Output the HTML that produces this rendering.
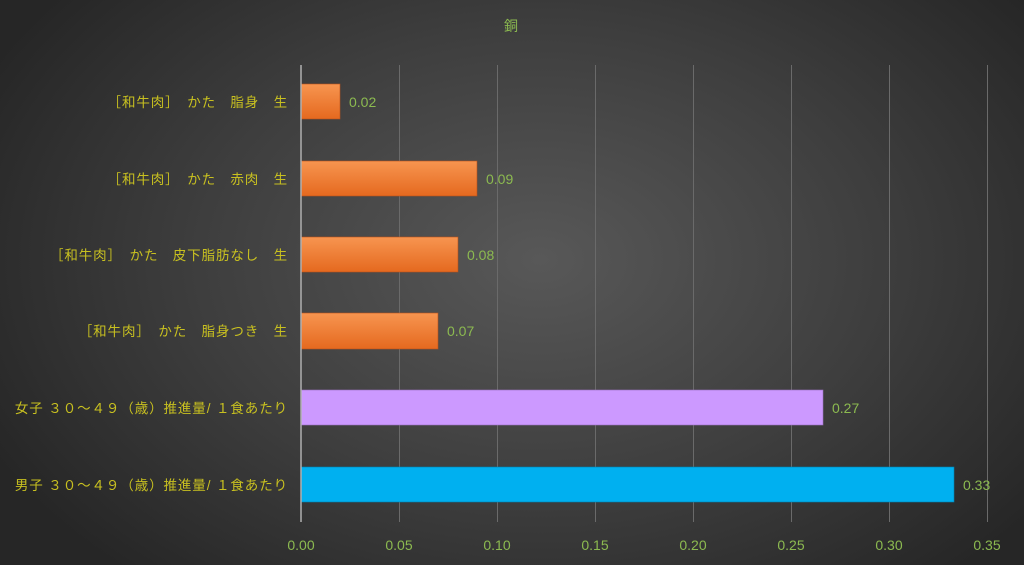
<!DOCTYPE html>
<html><head><meta charset="utf-8"><style>
html,body{margin:0;padding:0;}
body{width:1024px;height:565px;overflow:hidden;background:radial-gradient(ellipse 620px 420px at 540px 260px,#585858 0%,#3e3e3e 55%,#262626 100%);}
svg{display:block;font-family:"Liberation Sans","Noto Sans CJK JP",sans-serif;}
</style></head><body>
<svg width="1024" height="565" viewBox="0 0 1024 565">
<defs>
<linearGradient id="og" x1="0" y1="0" x2="0" y2="1"><stop offset="0" stop-color="#f79550"/><stop offset="1" stop-color="#e5691f"/></linearGradient>
</defs>
<text x="511" y="31" fill="#8cba50" font-size="14" text-anchor="middle">銅</text>
<g stroke="#6a6a6a" stroke-width="1">
<line x1="399.5" y1="65" x2="399.5" y2="522"/><line x1="497.5" y1="65" x2="497.5" y2="522"/><line x1="595.5" y1="65" x2="595.5" y2="522"/><line x1="693.5" y1="65" x2="693.5" y2="522"/><line x1="791.5" y1="65" x2="791.5" y2="522"/><line x1="889.5" y1="65" x2="889.5" y2="522"/><line x1="987.5" y1="65" x2="987.5" y2="522"/>
</g>
<g>
<rect x="301" y="84" width="39" height="35" fill="url(#og)" stroke="#b9501a" stroke-width="0.6"/>
<rect x="301" y="161" width="176" height="35" fill="url(#og)" stroke="#b9501a" stroke-width="0.6"/>
<rect x="301" y="237" width="157" height="35" fill="url(#og)" stroke="#b9501a" stroke-width="0.6"/>
<rect x="301" y="313" width="137" height="36" fill="url(#og)" stroke="#b9501a" stroke-width="0.6"/>
<rect x="301" y="390" width="522" height="35" fill="#cc99ff" stroke="#9a70c0" stroke-width="0.6"/>
<rect x="301" y="467" width="653" height="35" fill="#00b0f0" stroke="#0080b0" stroke-width="0.6"/>
</g>
<line x1="301" y1="65" x2="301" y2="522" stroke="#b0b0b0" stroke-width="1.5"/>
<g fill="#8cba50" font-size="14">
<text x="349" y="107">0.02</text><text x="486" y="184">0.09</text><text x="467" y="260">0.08</text><text x="447" y="336">0.07</text><text x="832" y="413">0.27</text><text x="963" y="490">0.33</text>
</g>
<g fill="#8cba50" font-size="14" text-anchor="middle">
<text x="301" y="550">0.00</text><text x="399" y="550">0.05</text><text x="497" y="550">0.10</text><text x="595" y="550">0.15</text><text x="693" y="550">0.20</text><text x="791" y="550">0.25</text><text x="889" y="550">0.30</text><text x="987" y="550">0.35</text>
</g>
<g fill="#c8c020" font-size="13.5" text-anchor="end" letter-spacing="0.9">
<text x="288" y="107">［和牛肉］　かた　脂身　生</text>
<text x="288" y="184">［和牛肉］　かた　赤肉　生</text>
<text x="288" y="260">［和牛肉］　かた　皮下脂肪なし　生</text>
<text x="288" y="336">［和牛肉］　かた　脂身つき　生</text>
<text x="288" y="413">女子 ３０～４９（歳）推進量/ １食あたり</text>
<text x="288" y="490">男子 ３０～４９（歳）推進量/ １食あたり</text>
</g>
</svg>
</body></html>
